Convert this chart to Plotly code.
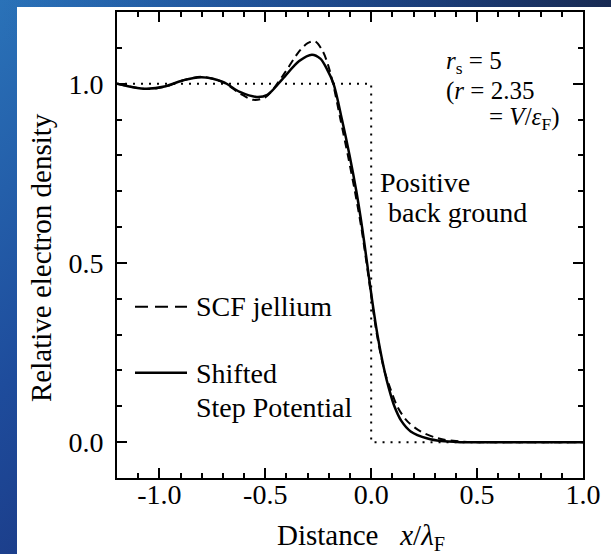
import plotly.graph_objects as go
import urllib.parse

# ---------------- data ----------------
shifted_x = [-1.2, -1.13, -1.06, -0.97, -0.89, -0.80, -0.70, -0.62, -0.54, -0.49, -0.42, -0.34,
             -0.28, -0.24, -0.21, -0.178, -0.138, -0.102, -0.070, -0.043, -0.0195, 0.0035,
             0.0295, 0.0625, 0.0835, 0.1095, 0.1415, 0.1865, 0.2665, 0.33, 0.42, 0.6, 1.0]
shifted_y = [1.0, 0.991, 0.986, 0.993, 1.009, 1.018, 1.005, 0.977, 0.963, 0.969, 1.012, 1.063,
             1.081, 1.070, 1.042, 1.0, 0.9, 0.8, 0.7, 0.6, 0.5, 0.4,
             0.3, 0.2, 0.15, 0.1, 0.06, 0.03, 0.01, 0.003, 0.0, 0.0, 0.0]

jellium_x = [-1.2, -1.13, -1.06, -0.97, -0.89, -0.80, -0.70, -0.62, -0.557, -0.50, -0.42, -0.34,
             -0.30, -0.265, -0.23, -0.205, -0.180, -0.145, -0.110, -0.077, -0.047, -0.022,
             0.002, 0.027, 0.062, 0.090, 0.123, 0.168, 0.233, 0.32, 0.40, 0.5, 0.7, 1.0]
jellium_y = [1.0, 0.991, 0.985, 0.992, 1.009, 1.019, 1.004, 0.973, 0.955, 0.962, 1.020, 1.090,
             1.113, 1.118, 1.092, 1.055, 1.0, 0.9, 0.8, 0.7, 0.6, 0.5,
             0.4, 0.3, 0.2, 0.15, 0.1, 0.06, 0.03, 0.01, 0.003, 0.0, 0.0, 0.0]

background_x = [-1.2, 0.0, 0.0, 1.0]
background_y = [1.0, 1.0, 0.0, 0.0]

x_tickvals = [-1.0, -0.5, 0.0, 0.5, 1.0]
x_ticktext = ["-1.0", "-0.5", "0.0", "0.5", "1.0"]
y_tickvals = [0.0, 0.5, 1.0]
y_ticktext = ["0.0", "0.5", "1.0"]

# ---------------- layout geometry ----------------
W, H = 611, 554
L, R, T, B = 117, 28, 12, 76
PW, PH = W - L - R, H - T - B
FONT = "Liberation Serif"


def px(xp):
    return (xp - L) / PW


def py(yp):
    return (H - B - yp) / PH


fig = go.Figure()

fig.add_trace(go.Scatter(x=background_x, y=background_y, mode="lines",
                         line=dict(color="black", width=2, dash="2px,6px"),
                         showlegend=False, hoverinfo="skip"))
fig.add_trace(go.Scatter(x=jellium_x, y=jellium_y, mode="lines", name="SCF jellium",
                         line=dict(color="black", width=2, dash="8px,5px", shape="spline",
                                   smoothing=0.9),
                         showlegend=False))
fig.add_trace(go.Scatter(x=shifted_x, y=shifted_y, mode="lines", name="Shifted Step Potential",
                         line=dict(color="black", width=2.5, shape="spline", smoothing=0.9),
                         showlegend=False))

# gradient background as an SVG data URI
svg = ('<svg xmlns="http://www.w3.org/2000/svg" width="611" height="554">'
       '<defs><linearGradient id="g" x1="0" y1="0" x2="1" y2="1">'
       '<stop offset="0" stop-color="#2a72b8"/>'
       '<stop offset="0.35" stop-color="#1e4c9c"/>'
       '<stop offset="0.7" stop-color="#1a2f78"/>'
       '<stop offset="1" stop-color="#141f50"/>'
       '</linearGradient>'
       '<linearGradient id="h" x1="0" y1="0" x2="1" y2="0">'
       '<stop offset="0" stop-color="#1f56a0" stop-opacity="0"/>'
       '<stop offset="1" stop-color="#18284c" stop-opacity="0.9"/>'
       '</linearGradient></defs>'
       '<rect width="611" height="554" fill="url(#g)"/>'
       '<rect width="611" height="40" fill="url(#h)"/>'
       '</svg>')
src = "data:image/svg+xml;charset=utf-8," + urllib.parse.quote(svg)

fig.add_layout_image(dict(source=src, xref="paper", yref="paper",
                          x=px(0), y=py(0), sizex=W / PW, sizey=H / PH,
                          xanchor="left", yanchor="top", sizing="stretch",
                          layer="below"))

shapes = [
    dict(type="rect", xref="paper", yref="paper", x0=px(17), x1=px(611), y0=py(554), y1=py(7),
         fillcolor="white", line=dict(width=0), layer="below"),
    dict(type="line", xref="paper", yref="paper", x0=px(135), x1=px(187), y0=py(306.7),
         y1=py(306.7), line=dict(color="black", width=2, dash="13px,7px")),
    dict(type="line", xref="paper", yref="paper", x0=px(135), x1=px(187), y0=py(372.7),
         y1=py(372.7), line=dict(color="black", width=2.5)),
]


def ann(text, x, y, xanchor="left", size=28, textangle=0):
    return dict(text=text, xref="paper", yref="paper", x=px(x), y=py(y), xanchor=xanchor,
                yanchor="middle", showarrow=False, textangle=textangle,
                font=dict(family=FONT, size=size, color="black"))


annotations = [
    ann("SCF jellium", 194, 306.7),
    ann("Shifted", 194, 373),
    ann("Step Potential", 194, 407),
    ann("Positive", 378, 182),
    ann("back ground", 386, 212),
    ann("<i>r</i><sub>s</sub> = 5", 444, 63, size=25),
    ann("(<i>r</i> = 2.35", 444, 91, size=25),
    ann("= <i>V</i>/<i>ε</i><sub>F</sub>)", 562, 118, xanchor="right", size=25),
    ann("Relative electron density", 41, 258, xanchor="center", size=29, textangle=-90),
    ann("Distance\u00a0\u00a0\u00a0<i>x</i>/<i>λ</i><sub>F</sub>", 361, 537, xanchor="center",
        size=29),
]

axis_common = dict(showline=True, linecolor="black", linewidth=2, mirror="ticks",
                   ticks="inside", ticklen=10, tickwidth=2, tickcolor="black",
                   showgrid=False, zeroline=False,
                   tickfont=dict(family=FONT, size=28, color="black"),
                   minor=dict(ticks="inside", ticklen=5, tickwidth=2, tickcolor="black",
                              dtick=0.1, showgrid=False))

fig.update_xaxes(range=[-1.2, 1.0], tickmode="array", tickvals=x_tickvals, ticktext=x_ticktext,
                 ticklabelstandoff=-10, **axis_common)
fig.update_yaxes(range=[-0.1, 1.2], tickmode="array", tickvals=y_tickvals, ticktext=y_ticktext,
                 ticklabelstandoff=6, **axis_common)

fig.update_layout(width=W, height=H, margin=dict(l=L, r=R, t=T, b=B, autoexpand=False),
                  paper_bgcolor="#1c3c88", plot_bgcolor="rgba(0,0,0,0)",
                  shapes=shapes, annotations=annotations, showlegend=False,
                  font=dict(family=FONT, color="black"))

fig.write_html("out.html", config={"displayModeBar": False},
               post_script="document.body.style.margin='0';document.body.style.padding='0';"
                           "document.body.style.background='#1c3c88';"
                           "document.documentElement.style.overflow='hidden';")
